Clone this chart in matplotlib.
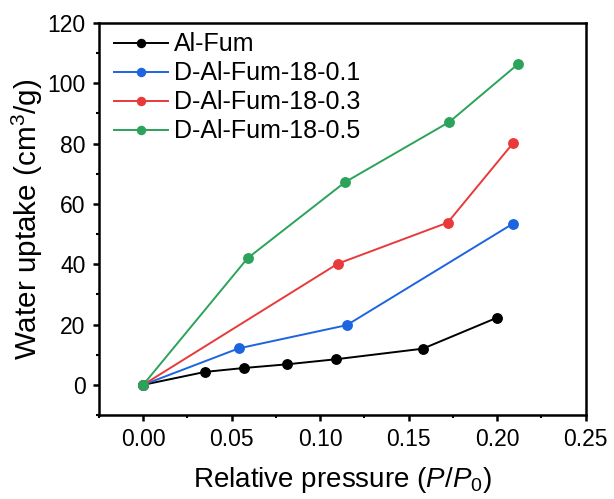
import matplotlib
matplotlib.use("Agg")
import matplotlib.pyplot as plt
from matplotlib.ticker import MultipleLocator

plt.rcParams['font.family'] = ['Liberation Sans', 'DejaVu Sans']
plt.rcParams['mathtext.fontset'] = 'custom'
plt.rcParams['mathtext.rm'] = 'Liberation Sans'
plt.rcParams['mathtext.it'] = 'Liberation Sans:italic'

names = ["Al-Fum", "D-Al-Fum-18-0.1", "D-Al-Fum-18-0.3", "D-Al-Fum-18-0.5"]
colors = ["#000000", "#1c64e0", "#e9393b", "#2ba35a"]

x_alfum = [0.0, 0.035, 0.057, 0.081, 0.109, 0.158, 0.200]
y_alfum = [0.0, 4.3, 5.6, 6.8, 8.5, 12.0, 22.3]
x_d01 = [0.0, 0.054, 0.115, 0.209]
y_d01 = [0.0, 12.1, 19.8, 53.5]
x_d03 = [0.0, 0.110, 0.172, 0.209]
y_d03 = [0.0, 40.2, 53.8, 80.2]
x_d05 = [0.0, 0.059, 0.114, 0.173, 0.212]
y_d05 = [0.0, 42.0, 67.2, 87.2, 106.5]

xs = [x_alfum, x_d01, x_d03, x_d05]
ys = [y_alfum, y_d01, y_d03, y_d05]

fig = plt.figure(figsize=(6.14, 4.99), dpi=100)
ax = fig.add_axes([0.161, 0.1683, 0.793, 0.7856])

for x, y, n, c in zip(xs, ys, names, colors):
    ax.plot(x, y, '-o', color=c, lw=1.4, ms=6.8, label=n)

ax.set_xlim(-0.025, 0.25)
ax.set_ylim(-10, 120)
ax.xaxis.set_minor_locator(MultipleLocator(0.025))
ax.yaxis.set_major_locator(MultipleLocator(20))
ax.yaxis.set_minor_locator(MultipleLocator(10))
ax.set_xticks([0.0, 0.05, 0.10, 0.15, 0.20, 0.25])
ax.set_xticklabels(["0.00", "0.05", "0.10", "0.15", "0.20", "0.25"])

for s in ax.spines.values():
    s.set_linewidth(1.8)
ax.tick_params(which='major', direction='out', length=4.5, width=1.8,
               labelsize=16.5, pad=5)
ax.tick_params(which='minor', direction='out', length=2.5, width=1.5)

ax.set_xlabel(r"Relative pressure ($P$/$P_{0}$)", fontsize=20, labelpad=10)
ax.set_ylabel(r"Water uptake (cm$^{3}$/g)", fontsize=21.3, labelpad=2)

ax.legend(loc='upper left', bbox_to_anchor=(0.012, 1.0), frameon=False,
          fontsize=18, handlelength=2.15, handletextpad=0.25,
          labelspacing=0.2, borderaxespad=0.12, borderpad=0.25,
          markerscale=0.85)

fig.savefig("out.png", dpi=100)
